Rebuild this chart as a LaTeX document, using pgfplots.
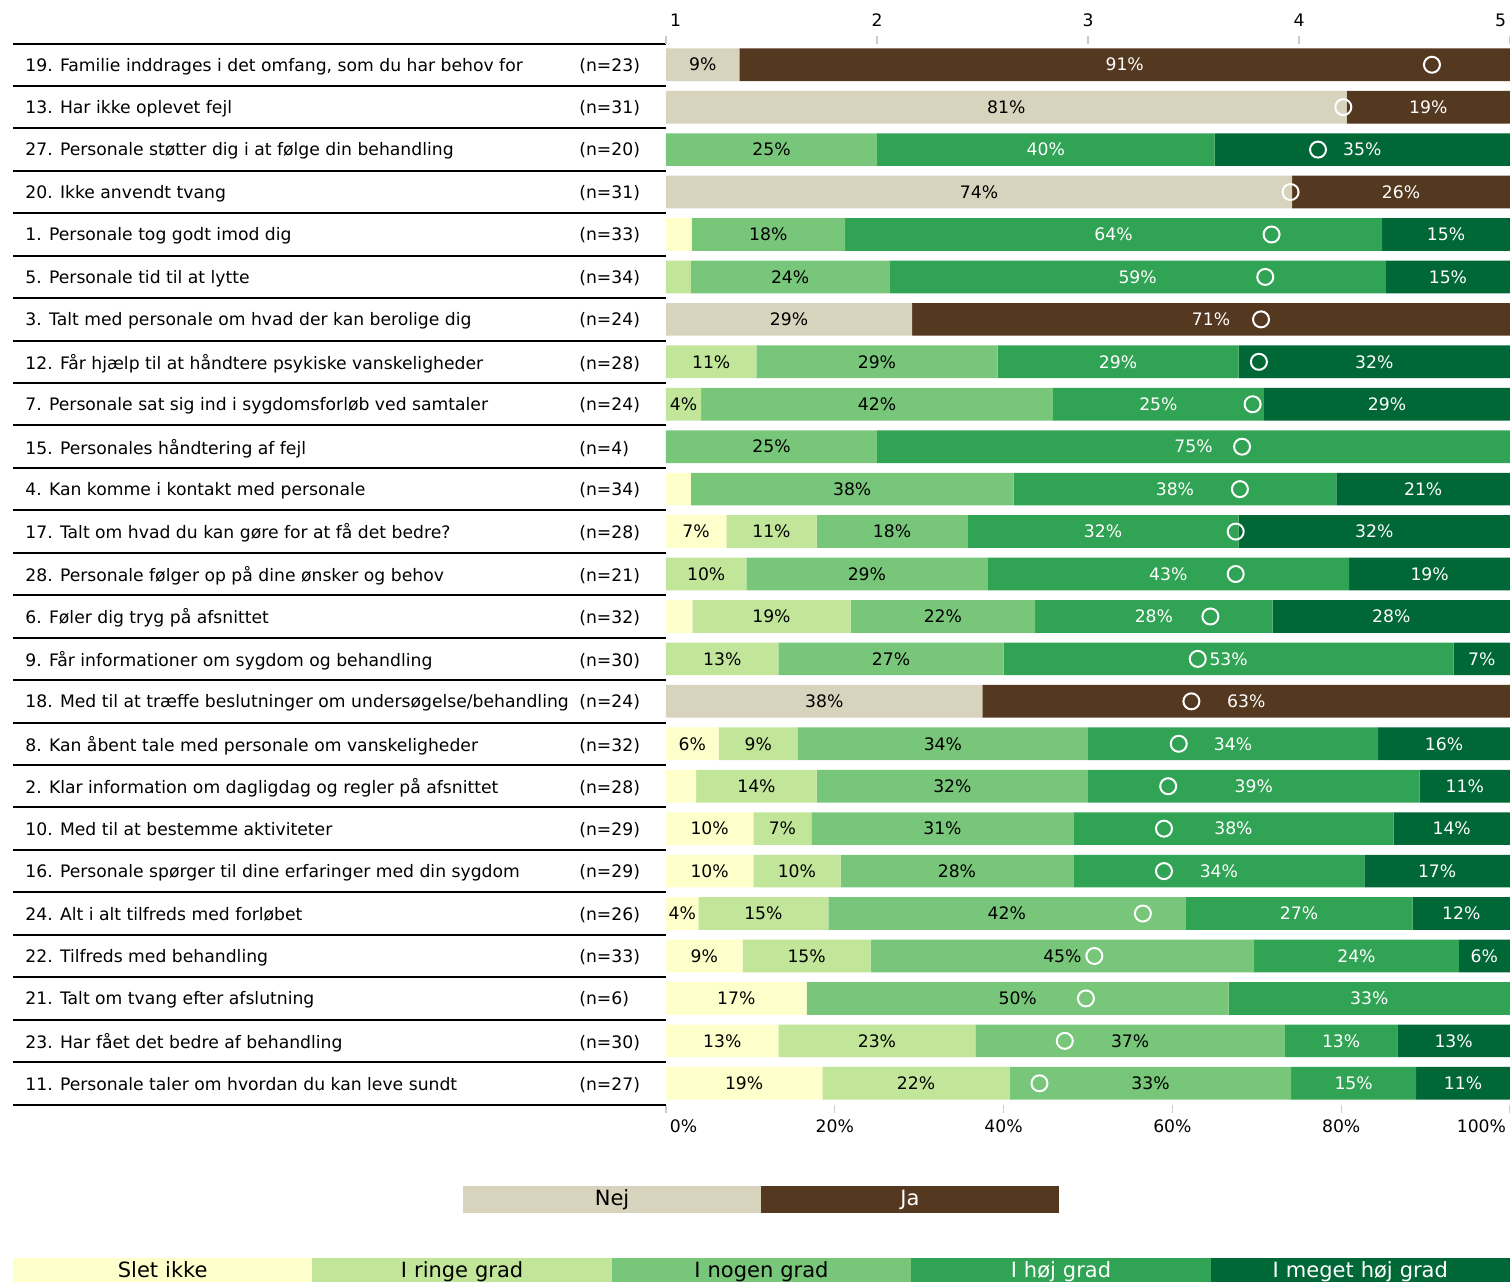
\documentclass[border=0pt]{standalone}
\usepackage{fontspec}
\setmainfont{DejaVu Sans}
\usepackage{pgfplots}
\usepackage{pgfplotstable}
\pgfplotsset{compat=1.18}
\definecolor{cA}{HTML}{FFFFCC}
\definecolor{cB}{HTML}{C2E699}
\definecolor{cC}{HTML}{78C679}
\definecolor{cD}{HTML}{31A354}
\definecolor{cE}{HTML}{006837}
\definecolor{cNej}{HTML}{D8D3BC}
\definecolor{cJa}{HTML}{543820}
\newcommand\fs{\fontsize{8.6}{10}\selectfont}
\newcommand\lfs{\fontsize{10.5}{12}\selectfont}
\newcommand\lab[2]{\makebox[277pt][l]{#1}#2}

\pgfplotstableread{
row s1 s2 s3 s4 s5 nej ja mean
1 0 0 0 0 0 8.70 91.30 4.63
2 0 0 0 0 0 80.65 19.35 4.21
3 0 0 25 40 35 0 0 4.09
4 0 0 0 0 0 74.19 25.81 3.96
5 3.03 0 18.18 63.64 15.15 0 0 3.87
6 0 2.94 23.53 58.82 14.71 0 0 3.84
7 0 0 0 0 0 29.17 70.83 3.82
8 0 10.71 28.57 28.57 32.14 0 0 3.81
9 0 4.17 41.67 25.00 29.17 0 0 3.78
10 0 0 25 75 0 0 0 3.73
11 2.94 0 38.24 38.24 20.59 0 0 3.72
12 7.14 10.71 17.86 32.14 32.14 0 0 3.70
13 0 9.52 28.57 42.86 19.05 0 0 3.70
14 3.12 18.75 21.88 28.12 28.12 0 0 3.58
15 0 13.33 26.67 53.33 6.67 0 0 3.52
16 0 0 0 0 0 37.5 62.5 3.49
17 6.25 9.37 34.38 34.37 15.63 0 0 3.43
18 3.57 14.29 32.14 39.29 10.71 0 0 3.38
19 10.34 6.90 31.03 37.93 13.79 0 0 3.36
20 10.34 10.34 27.59 34.48 17.24 0 0 3.36
21 3.85 15.38 42.31 26.92 11.54 0 0 3.26
22 9.09 15.15 45.45 24.24 6.06 0 0 3.03
23 16.67 0 50 33.33 0 0 0 2.99
24 13.33 23.33 36.67 13.33 13.33 0 0 2.89
25 18.52 22.22 33.33 14.81 11.11 0 0 2.77
}\data

\newcommand\labplot[3]{%
\addplot[draw=none, mark=none, forget plot, point meta=\thisrow{#1},
  restrict expr to domain={\thisrow{#1}}{3.7:101},
  nodes near coords={\pgfmathprintnumber[fixed,precision=0,assume math mode=true]{\pgfplotspointmeta}\%},
  nodes near coords style={anchor=center, text=#3, font=\fs, inner sep=0pt}]
  table[x expr={#2}, y=row]{\data};}

\begin{document}
\begin{tikzpicture}
\useasboundingbox (0,0) rectangle (755pt,640.5pt);
\pgfplotsset{common/.style={at={(333pt,88.25pt)}, anchor=south west,
  scale only axis, width=422pt, height=530.5pt,
  xmin=0, xmax=100, ymin=0.5, ymax=25.5, y dir=reverse,
  enlargelimits=false, font=\fs}}

% bars
\begin{axis}[common, xbar stacked, bar width=0.77,
  axis line style={draw=none},
  xtick={0,20,...,100},
  xticklabels={\makebox[0pt][l]{\hspace{2pt}0\%},20\%,40\%,60\%,80\%,\makebox[0pt][r]{100\%\hspace{2pt}}},
  xtick pos=bottom, tick align=outside, major tick length=4pt,
  xtick style={gray!40, line width=0.6pt},
  ytick={1,...,25}, ytick pos=left,
  ytick style={draw=none},
  yticklabel style={anchor=west, inner sep=0pt, xshift=-316.5pt, yshift=-0.8pt},
  yticklabels={
   {\lab{19. Familie inddrages i det omfang, som du har behov for}{(n=23)}},
   {\lab{13. Har ikke oplevet fejl}{(n=31)}},
   {\lab{27. Personale støtter dig i at følge din behandling}{(n=20)}},
   {\lab{20. Ikke anvendt tvang}{(n=31)}},
   {\lab{1. Personale tog godt imod dig}{(n=33)}},
   {\lab{5. Personale tid til at lytte}{(n=34)}},
   {\lab{3. Talt med personale om hvad der kan berolige dig}{(n=24)}},
   {\lab{12. Får hjælp til at håndtere psykiske vanskeligheder}{(n=28)}},
   {\lab{7. Personale sat sig ind i sygdomsforløb ved samtaler}{(n=24)}},
   {\lab{15. Personales håndtering af fejl}{(n=4)}},
   {\lab{4. Kan komme i kontakt med personale}{(n=34)}},
   {\lab{17. Talt om hvad du kan gøre for at få det bedre?}{(n=28)}},
   {\lab{28. Personale følger op på dine ønsker og behov}{(n=21)}},
   {\lab{6. Føler dig tryg på afsnittet}{(n=32)}},
   {\lab{9. Får informationer om sygdom og behandling}{(n=30)}},
   {\lab{18. Med til at træffe beslutninger om undersøgelse/behandling}{(n=24)}},
   {\lab{8. Kan åbent tale med personale om vanskeligheder}{(n=32)}},
   {\lab{2. Klar information om dagligdag og regler på afsnittet}{(n=28)}},
   {\lab{10. Med til at bestemme aktiviteter}{(n=29)}},
   {\lab{16. Personale spørger til dine erfaringer med din sygdom}{(n=29)}},
   {\lab{24. Alt i alt tilfreds med forløbet}{(n=26)}},
   {\lab{22. Tilfreds med behandling}{(n=33)}},
   {\lab{21. Talt om tvang efter afslutning}{(n=6)}},
   {\lab{23. Har fået det bedre af behandling}{(n=30)}},
   {\lab{11. Personale taler om hvordan du kan leve sundt}{(n=27)}}},
  extra y ticks={0.5,1.5,...,25.5}, extra y tick labels={},
  extra y tick style={ytick style={draw=black, line width=1pt}, major tick length=326.5pt, tick align=outside},
  legend image code/.code={},
  legend style={draw=none, fill=none, legend columns=5, at={(0.1132,-0.1574)}, anchor=center,
    column sep=0pt, inner sep=0pt,
    nodes={inner sep=0pt, text width=149.7pt, minimum height=13.5pt, align=center, font=\lfs}},
]
\addplot[fill=cA, draw=none] table[x=s1,y=row]{\data};
\addlegendentry[fill=cA, text=black]{Slet ikke}
\addplot[fill=cB, draw=none] table[x=s2,y=row]{\data};
\addlegendentry[fill=cB, text=black]{I ringe grad}
\addplot[fill=cC, draw=none] table[x=s3,y=row]{\data};
\addlegendentry[fill=cC, text=black]{I nogen grad}
\addplot[fill=cD, draw=none] table[x=s4,y=row]{\data};
\addlegendentry[fill=cD, text=white]{I høj grad}
\addplot[fill=cE, draw=none] table[x=s5,y=row]{\data};
\addlegendentry[fill=cE, text=white]{I meget høj grad}
\addplot[fill=cNej, draw=none, forget plot] table[x=nej,y=row]{\data};
\addplot[fill=cJa, draw=none, forget plot] table[x=ja,y=row]{\data};
\end{axis}

% labels
\begin{axis}[common, hide axis,
  legend image code/.code={},
  legend style={draw=none, fill=none, legend columns=2, at={(0.1126,-0.0895)}, anchor=center,
    column sep=0pt, inner sep=0pt,
    nodes={inner sep=0pt, text width=149pt, minimum height=13.5pt, align=center, font=\lfs}},
]
\labplot{s1}{\thisrow{s1}/2}{black}
\labplot{s2}{\thisrow{s1}+\thisrow{s2}/2}{black}
\labplot{s3}{\thisrow{s1}+\thisrow{s2}+\thisrow{s3}/2}{black}
\labplot{s4}{\thisrow{s1}+\thisrow{s2}+\thisrow{s3}+\thisrow{s4}/2}{white}
\labplot{s5}{\thisrow{s1}+\thisrow{s2}+\thisrow{s3}+\thisrow{s4}+\thisrow{s5}/2}{white}
\labplot{nej}{\thisrow{nej}/2}{black}
\labplot{ja}{\thisrow{nej}+\thisrow{ja}/2}{white}
\addlegendimage{}
\addlegendentry[fill=cNej, text=black]{Nej}
\addlegendimage{}
\addlegendentry[fill=cJa, text=white]{Ja}
\end{axis}

% top scale and means
\begin{axis}[common, xmin=1, xmax=5,
  axis line style={draw=none},
  xtick={1,...,5},
  xticklabels={\makebox[0pt][l]{\hspace{2pt}1},2,3,4,\makebox[0pt][r]{5\hspace{2pt}}},
  xtick pos=top, xticklabel pos=top, tick align=outside, major tick length=4pt,
  xtick style={gray!40, line width=0.6pt},
  xticklabel style={yshift=1pt},
  ytick=\empty,
]
\addplot[only marks, mark=o, mark size=4pt, mark options={white, line width=1pt}] table[x=mean,y=row]{\data};
\end{axis}
\end{tikzpicture}
\end{document}
